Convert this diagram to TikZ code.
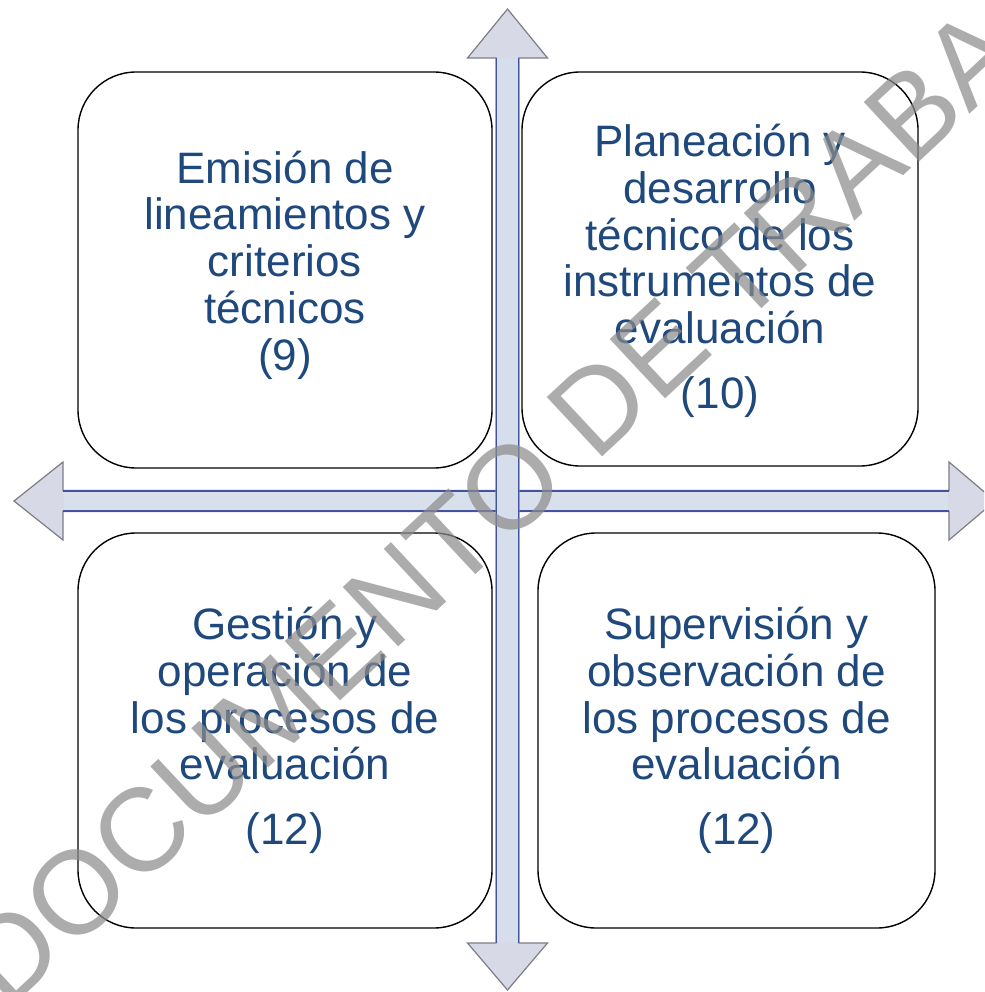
\documentclass[tikz,border=0pt]{standalone}
\usepackage{fontspec}
\setmainfont{Liberation Sans}
\definecolor{txtblue}{RGB}{31,73,125}
\definecolor{headfill}{RGB}{215,217,230}
\definecolor{shaftfill}{RGB}{216,224,236}
\definecolor{arrowedge}{RGB}{125,125,135}
\definecolor{shaftline}{RGB}{68,82,158}
\definecolor{wmgray}{RGB}{140,140,140}
\begin{document}
\begin{tikzpicture}[x=1pt,y=-1pt,
  box/.style={draw=black, line width=1.4pt, rounded corners=58pt, fill=white, inner sep=0pt},
  boxtext/.style={align=center, text=txtblue, font=\fontsize{44}{46.7}\selectfont, inner sep=0pt},
  arrowbody/.style={fill=headfill, draw=arrowedge, line width=1.2pt, line join=miter},
  shaftband/.style={fill=shaftfill},
  edgeline/.style={draw=shaftline, line width=1.6pt},
  wm/.style={text=wmgray, opacity=0.72, font=\fontsize{118}{118}\selectfont, rotate=43, inner sep=0pt}
]
\useasboundingbox (0,0) rectangle (984,992);
\clip (0,0) rectangle (984,992);
\fill[white] (0,0) rectangle (984,992);

% horizontal double arrow
\draw[arrowbody] (14,501) -- (63,462) -- (63,490.5) -- (949,490.5) -- (949,462) -- (995,501)
  -- (949,540) -- (949,511.5) -- (63,511.5) -- (63,540) -- cycle;
\fill[shaftband] (64,491.5) rectangle (948,510.5);
\draw[edgeline] (63,491) -- (949,491);
\draw[edgeline] (63,511) -- (949,511);

% vertical double arrow
\draw[arrowbody] (507.5,9) -- (547.5,58) -- (519,58) -- (519,943) -- (547.5,943) -- (507.5,990)
  -- (467.5,943) -- (496,943) -- (496,58) -- (467.5,58) -- cycle;
\fill[shaftband, opacity=0.85] (497,59) rectangle (518,942);
\draw[edgeline] (496.5,58) -- (496.5,943);
\draw[edgeline] (518.5,58) -- (518.5,943);

% boxes
\node[box, minimum width=414pt, minimum height=396pt] (tl) at (285,270) {};
\node[box, minimum width=396pt, minimum height=394pt] (tr) at (720,269) {};
\node[box, minimum width=414pt, minimum height=395pt] (bl) at (285,730.5) {};
\node[box, minimum width=397pt, minimum height=395pt] (br) at (736.5,730.5) {};

% texts
\node[boxtext] (tlt) at (285,265)
  {Emisión de\\lineamientos y\\criterios\\técnicos\\(9)};
\node[boxtext] (trt) at (720,271)
  {Planeación y\\desarrollo\\técnico de los\\instrumentos de\\evaluación\\[18pt](10)};
\node[boxtext] (blt) at (285,730.5)
  {Gestión y\\operación de\\los procesos de\\evaluación\\[18pt](12)};
\node[boxtext] (brt) at (736.5,730.5)
  {Supervisión y\\observación de\\los procesos de\\evaluación\\[18pt](12)};

% watermark
\node[wm] (wmark) at (545,455) {DOCUMENTO DE TRABAJO};
\end{tikzpicture}
\end{document}
